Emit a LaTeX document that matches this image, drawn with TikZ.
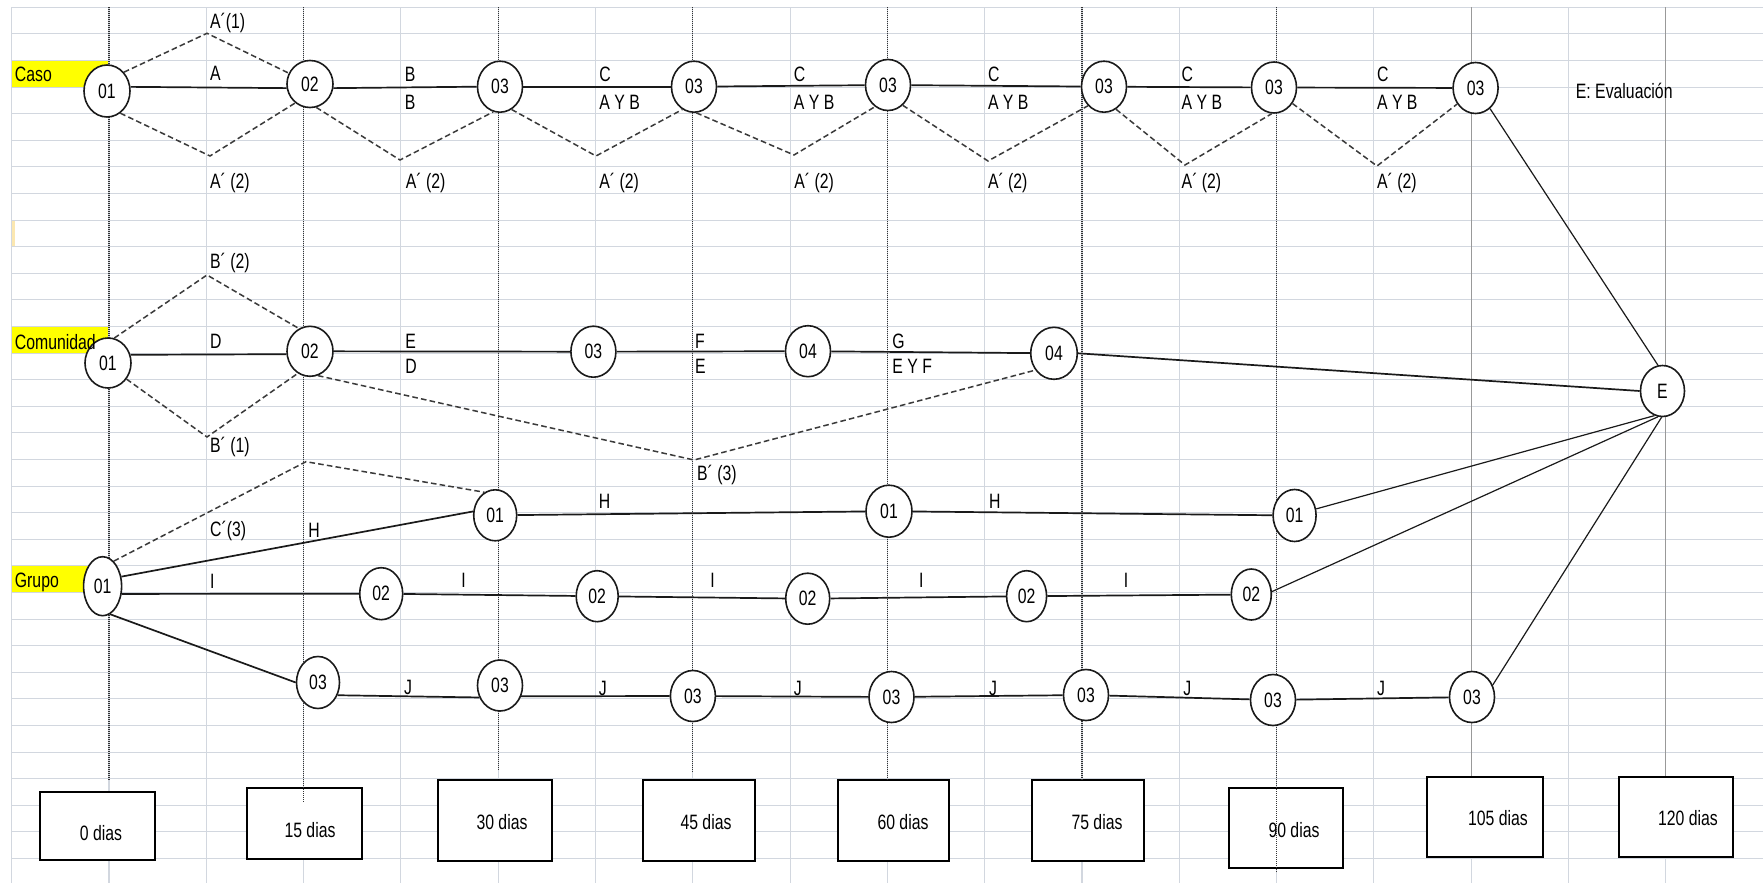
\documentclass[tikz,border=0pt]{standalone}
\usepackage{fontspec}
\setmainfont{Liberation Sans}[FakeStretch=0.76]
\usetikzlibrary{shapes.geometric}
\definecolor{gridc}{HTML}{D2D7DF}
\definecolor{hlyellow}{HTML}{FFFF00}
\definecolor{faintyel}{HTML}{FBE7B0}
\definecolor{ink}{HTML}{1A1A1A}
\definecolor{dashc}{HTML}{3A3A3A}
\definecolor{vgray}{HTML}{999999}
\newcommand{\fsz}{\fontsize{10.4pt}{12pt}\selectfont}
\begin{document}
\begin{tikzpicture}[x=0.5pt,y=-0.5pt,
  nd/.style={ellipse,draw=ink,line width=0.8pt,fill=white,inner sep=0pt,minimum width=22.5pt,minimum height=25.5pt,font=\fsz},
  lab/.style={anchor=base west,inner sep=0pt,font=\fsz},
  dtxt/.style={anchor=center,inner sep=0pt,font=\fsz},
  dbox/.style={rectangle,draw=black,line width=1pt,fill=white,inner sep=0pt},
  conn/.style={draw=ink,line width=0.85pt},
  econn/.style={draw=ink,line width=0.6pt},
  dsh/.style={draw=dashc,line width=0.75pt,dash pattern=on 2.8pt off 1.6pt},
  dotv/.style={draw=black!80,line width=0.6pt,dash pattern=on 0.5pt off 0.5pt},
  solv/.style={draw=vgray,line width=0.6pt},
  gridl/.style={draw=gridc,line width=0.55pt}
]
% page
\fill[white] (0,0) rectangle (1763,883);
\useasboundingbox (0,0) rectangle (1763,883);
% highlighted cells
\fill[hlyellow] (11.7,60.7) rectangle (109,87.3);
\fill[hlyellow] (11.7,326.5) rectangle (109,353.1);
\fill[hlyellow] (11.7,565.9) rectangle (109,592.5);
\fill[faintyel] (11.7,220.1) rectangle (14.5,246.7);
% grid
\foreach \n in {0,...,32}{\draw[gridl] (11.7,{7.3+26.6*\n}) -- (1763,{7.3+26.6*\n});}
\foreach \k in {0,...,18}{\draw[gridl] ({11.7+97.3*\k},7.3) -- ({11.7+97.3*\k},883);}

% day boxes
\node[dbox,minimum width=57.4pt,minimum height=34.2pt] (b0) at (97.6,825.9) {};
\node[dbox,minimum width=57.5pt,minimum height=35.5pt] (b15) at (304.3,823.8) {};
\node[dbox,minimum width=57pt,minimum height=40.3pt] (b30) at (495,820.4) {};
\node[dbox,minimum width=56pt,minimum height=40.3pt] (b45) at (699,820.4) {};
\node[dbox,minimum width=55.3pt,minimum height=40.3pt] (b60) at (893.4,820.4) {};
\node[dbox,minimum width=55.7pt,minimum height=40.3pt] (b75) at (1087.8,820.4) {};
\node[dbox,minimum width=57.2pt,minimum height=40pt] (b90) at (1286.2,828.3) {};
\node[dbox,minimum width=57.8pt,minimum height=40pt] (b105) at (1484.9,817.3) {};
\node[dbox,minimum width=56.8pt,minimum height=40pt] (b120) at (1676.2,817.3) {};
\node[dtxt] (tx0) at (101,832.7) {0 dias};
\node[dtxt] (tx15) at (310,830) {15 dias};
\node[dtxt] (tx30) at (502,821.7) {30 dias};
\node[dtxt] (tx45) at (706,821.7) {45 dias};
\node[dtxt] (tx60) at (903,821.7) {60 dias};
\node[dtxt] (tx75) at (1097,821.7) {75 dias};
\node[dtxt] (tx90) at (1294,830) {90 dias};
\node[dtxt] (tx105) at (1498,818.3) {105 dias};
\node[dtxt] (tx120) at (1688,818.3) {120 dias};

% time lines
\coordinate (t1) at (109,7.3);     \coordinate (e1) at (109,780);
\coordinate (t3) at (303.6,7.3);   \coordinate (e3) at (303.6,803);
\coordinate (t5) at (498.2,7.3);   \coordinate (e5) at (498.2,770);
\coordinate (t7) at (692.8,7.3);   \coordinate (e7) at (692.8,773);
\coordinate (t9) at (887.4,7.3);   \coordinate (e9) at (887.4,780);
\coordinate (t11) at (1082,7.3);   \coordinate (e11) at (1082,780);
\coordinate (t13) at (1276.6,7.3); \coordinate (e13) at (1276.6,873);
\coordinate (t15) at (1471.2,7.3);
\coordinate (t17) at (1665.8,7.3);
\draw[dotv] (t1) -- (e1);
\draw[dotv] (t3) -- (e3);
\draw[dotv] (t5) -- (e5);
\draw[dotv] (t7) -- (e7);
\draw[dotv] (t9) -- (e9);
\draw[dotv] (t11) -- (e11);
\draw[dotv] (t13) -- (e13);
\draw[solv] (t15) -- (t15 |- b105.north);
\draw[solv] (t17) -- (t17 |- b120.north);

% ---- Caso nodes
\node[nd,minimum width=23pt,minimum height=26pt] (c1) at (107,91) {01};
\node[nd,minimum width=23pt,minimum height=23.5pt] (c2) at (310,84) {02};
\node[nd] (c3) at (500,86.7) {03};
\node[nd] (c4) at (694,86.7) {03};
\node[nd] (c5) at (888,85) {03};
\node[nd] (c6) at (1104,86.7) {03};
\node[nd] (c7) at (1274,87.5) {03};
\node[nd] (c8) at (1475.6,88) {03};
% ---- Comunidad nodes
\node[nd,minimum width=23pt,minimum height=25pt] (m1) at (108,363) {01};
\node[nd,minimum width=23pt,minimum height=25pt] (m2) at (310,351.3) {02};
\node[nd] (m3) at (593.4,351.7) {03};
\node[nd] (m4) at (808,351.2) {04};
\node[nd,minimum width=23.3pt,minimum height=26pt] (m5) at (1054,353.3) {04};
\node[nd,minimum width=22pt,minimum height=25.5pt] (E) at (1662.5,391) {E};
% ---- Grupo nodes
\node[nd,minimum width=19pt,minimum height=29.5pt] (g1) at (102.6,586.2) {01};
\node[nd,minimum width=21.5pt] (h1) at (495.2,515.3) {01};
\node[nd,minimum width=23pt,minimum height=26pt] (h2) at (889,511.2) {01};
\node[nd,minimum width=21.5pt,minimum height=26pt] (h3) at (1294.6,515.5) {01};
\node[nd,minimum width=21.5pt,minimum height=26pt] (i1) at (381.2,593.7) {02};
\node[nd,minimum width=21pt] (i2) at (597.2,596.2) {02};
\node[nd,minimum width=22pt] (i3) at (807.7,598.7) {02};
\node[nd,minimum width=20pt] (i4) at (1026.6,596.2) {02};
\node[nd,minimum width=20pt] (i5) at (1251.3,594.5) {02};
\node[nd,minimum width=21.5pt,minimum height=26pt] (j1) at (318,682.5) {03};
\node[nd] (j2) at (500,685.5) {03};
\node[nd] (j3) at (692.9,696) {03};
\node[nd] (j4) at (891.5,697) {03};
\node[nd] (j5) at (1086,695) {03};
\node[nd] (j6) at (1273,700) {03};
\node[nd] (j7) at (1472,697) {03};

% ---- Caso connectors
\draw[conn] (c1.10) -- (c2.190);
\draw[conn] (c2.350) -- (c3.west);
\draw[conn] (c3) -- (c4);
\draw[conn] (c4) -- (c5);
\draw[conn] (c5) -- (c6);
\draw[conn] (c6) -- (c7);
\draw[conn] (c7) -- (c8);
\coordinate (ap1) at (207,33.3);
\coordinate (v1) at (210,156);
\coordinate (v2) at (400,160);
\coordinate (v3) at (596,156);
\coordinate (v4) at (794,155);
\coordinate (v5) at (988,161);
\coordinate (v6) at (1185,165);
\coordinate (v7) at (1377,166);
\draw[dsh] (c1.48) -- (ap1) -- (c2.153);
\draw[dsh] (c1.301) -- (v1) -- (c2.232);
\draw[dsh] (c2.285) -- (v2) -- (c3.255);
\draw[dsh] (c3.297) -- (v3) -- (c4.243);
\draw[dsh] (c4.275) -- (v4) -- (c5.239);
\draw[dsh] (c5.306) -- (v5) -- (c6.230);
\draw[dsh] (c6.298) -- (v6) -- (c7.265);
\draw[dsh] (c7.319) -- (v7) -- (c8.221);
% ---- Comunidad connectors
\draw[conn] (m1.20) -- (m2.187);
\draw[conn] (m2) -- (m3);
\draw[conn] (m3) -- (m4);
\draw[conn] (m4) -- (m5);
\draw[conn] (m5.east) -- (E.west);
\coordinate (ap2) at (207,275);
\coordinate (bv1) at (207,437);
\coordinate (bv3) at (694,460);
\draw[dsh] (m1.76) -- (ap2) -- (m2.116);
\draw[dsh] (m1.319) -- (bv1) -- (m2.241);
\draw[dsh] (m2.288) -- (bv3) -- (m5.222);
% ---- Grupo connectors
\coordinate (apc) at (306,461.7);
\draw[dsh] (g1.66) -- (apc) -- (h1.115);
\draw[conn] (g1.27) -- (h1.170);
\draw[conn] (g1.-22) -- (i1.west);
\draw[conn] (g1.-75) -- (j1.west);
\draw[conn] (h1) -- (h2);
\draw[conn] (h2) -- (h3);
\draw[conn] (i1) -- (i2);
\draw[conn] (i2) -- (i3);
\draw[conn] (i3) -- (i4);
\draw[conn] (i4) -- (i5);
\draw[conn] (j1.-33) -- (j2.210);
\draw[conn] (j2.-27) -- (j3.west);
\draw[conn] (j3) -- (j4);
\draw[conn] (j4) -- (j5);
\draw[conn] (j5) -- (j6);
\draw[conn] (j6) -- (j7);
% ---- to evaluation
\draw[econn] (c8.-55) -- (E.100);
\draw[econn] (h3.17) -- (E.252);
\draw[econn] (i5.8) -- (E.260);
\draw[econn] (j7.30) -- (E.268);

% ---- labels: Caso
\node[lab] (lcaso) at (14.5,81.5) {Caso};
\node[lab] (la1) at (209.7,28.5) {A´(1)};
\node[lab] (lA) at (209.7,80.5) {A};
\node[lab] (lB1) at (404.5,81.5) {B};
\node[lab] (lB2) at (404.5,110) {B};
\node[lab] (lC1) at (599,81.5) {C};
\node[lab] (lC2) at (793.5,81.5) {C};
\node[lab] (lC3) at (987.6,81.5) {C};
\node[lab] (lC4) at (1181.3,81.5) {C};
\node[lab] (lC5) at (1376.7,81.5) {C};
\node[lab] (lAB1) at (599,110) {A Y B};
\node[lab] (lAB2) at (793.5,110) {A Y B};
\node[lab] (lAB3) at (987.6,110) {A Y B};
\node[lab] (lAB4) at (1181.3,110) {A Y B};
\node[lab] (lAB5) at (1376.7,110) {A Y B};
\node[lab] (leval) at (1575.5,99) {E: Evaluación};
\node[lab] (la21) at (209.7,189) {A´ (2)};
\node[lab] (la22) at (405.5,189) {A´ (2)};
\node[lab] (la23) at (599,189) {A´ (2)};
\node[lab] (la24) at (794,189) {A´ (2)};
\node[lab] (la25) at (987.6,189) {A´ (2)};
\node[lab] (la26) at (1181.3,189) {A´ (2)};
\node[lab] (la27) at (1376.7,189) {A´ (2)};
% ---- labels: Comunidad
\node[lab] (lcom) at (14.5,349) {Comunidad};
\node[lab] (lb2) at (209.7,268.5) {B´ (2)};
\node[lab] (lD1) at (209.7,348) {D};
\node[lab] (lE1) at (405,348) {E};
\node[lab] (lD2) at (405,373.5) {D};
\node[lab] (lF) at (694.8,348) {F};
\node[lab] (lE2) at (694.8,373.5) {E};
\node[lab] (lG) at (892,348) {G};
\node[lab] (lEF) at (892,373.5) {E Y F};
\node[lab] (lb1) at (209.7,452.5) {B´ (1)};
\node[lab] (lb3) at (696.7,480) {B´ (3)};
% ---- labels: Grupo
\node[lab] (lgrupo) at (14.5,587) {Grupo};
\node[lab] (lc3) at (209.7,536) {C´(3)};
\node[lab] (lH1) at (308,537) {H};
\node[lab] (lH2) at (598.4,508) {H};
\node[lab] (lH3) at (988.7,508) {H};
\node[lab] (lI1) at (209.7,588) {I};
\node[lab] (lI2) at (461,587) {I};
\node[lab] (lI3) at (710,587) {I};
\node[lab] (lI4) at (918.7,587) {I};
\node[lab] (lI5) at (1123.4,587) {I};
\node[lab] (lJ1) at (403.7,694.5) {J};
\node[lab] (lJ2) at (598.4,695) {J};
\node[lab] (lJ3) at (793.5,695) {J};
\node[lab] (lJ4) at (988.7,695) {J};
\node[lab] (lJ5) at (1183,695) {J};
\node[lab] (lJ6) at (1376.7,695) {J};
\end{tikzpicture}
\end{document}
